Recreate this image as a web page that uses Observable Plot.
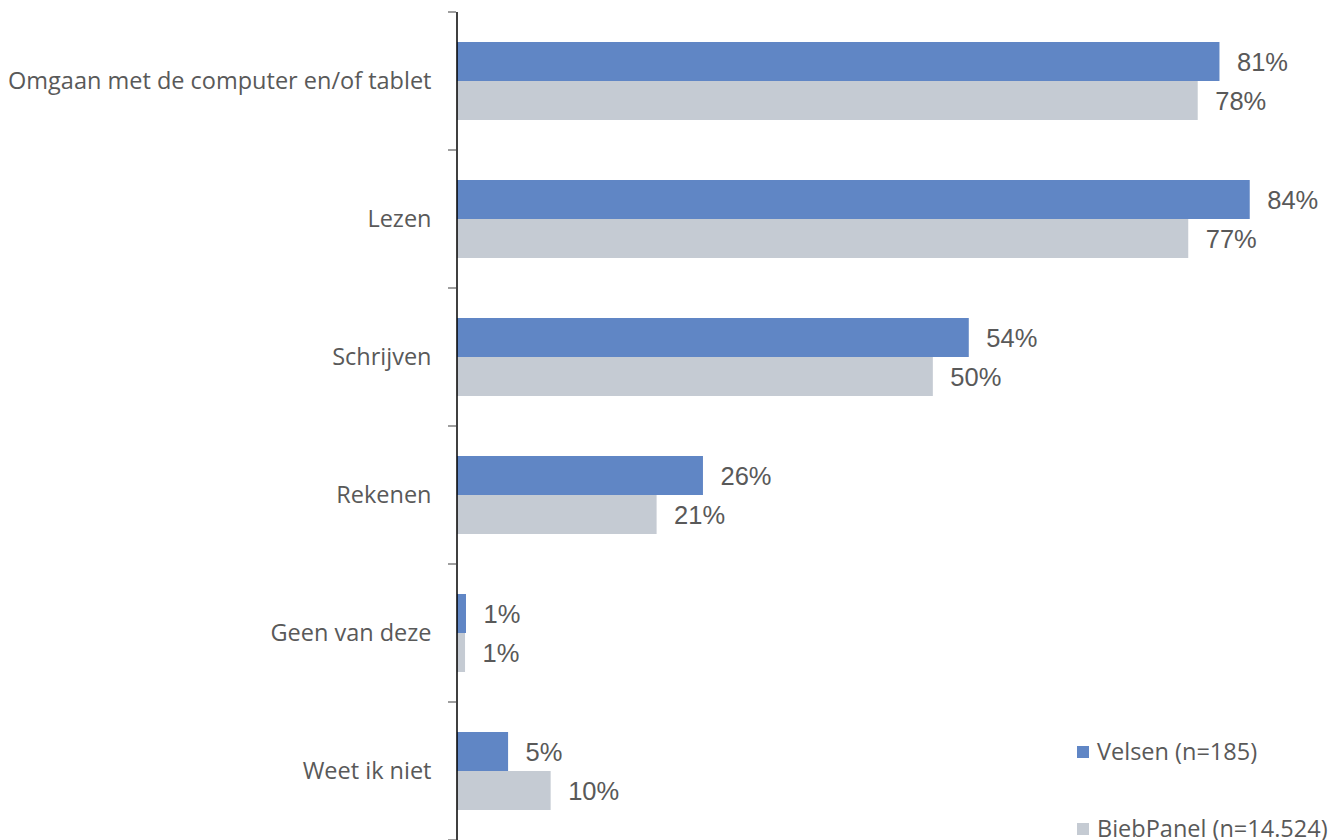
<!DOCTYPE html>
<html>
<head>
<meta charset="utf-8">
<script src="https://cdn.jsdelivr.net/npm/d3@7"></script>
<script src="https://cdn.jsdelivr.net/npm/@observablehq/plot@0.6"></script>
<style>
  html, body { margin: 0; padding: 0; background: white; }
  #wrap { position: relative; width: 1331px; height: 840px; overflow: hidden; }
  .legend { position: absolute; left: 1077px; font-family: "Open Sans", sans-serif; font-size: 23.5px; color: #595959; white-space: nowrap; display: flex; align-items: center; line-height: 1; }
  .legend .sw { display: inline-block; width: 12px; height: 12px; margin-right: 8px; }
</style>
</head>
<body>
<div id="wrap"></div>
<script>
const categories = [
  "Omgaan met de computer en/of tablet",
  "Lezen",
  "Schrijven",
  "Rekenen",
  "Geen van deze",
  "Weet ik niet"
];
const series = ["Velsen (n=185)", "BiebPanel (n=14.524)"];
// values (labels shown rounded)
const velsen = [80.6, 83.8, 54.1, 26.0, 0.95, 5.4];
const biebpanel = [78.3, 77.3, 50.3, 21.1, 0.85, 9.9];
const colors = ["#6086C5", "#C5CBD3"];

const rows = [];
categories.forEach((c, i) => {
  rows.push({category: c, series: series[0], value: velsen[i]});
  rows.push({category: c, series: series[1], value: biebpanel[i]});
});

const chart = Plot.plot({
  width: 1331,
  height: 840,
  marginLeft: 457,
  marginRight: 0,
  marginTop: 12,
  marginBottom: 0,
  style: {fontFamily: "'Open Sans', sans-serif", color: "#595959", background: "white", overflow: "visible"},
  x: {domain: [0, 92.39], axis: null},
  y: {domain: series, paddingInner: 0, paddingOuter: 0.747, axis: null},
  fy: {domain: categories, padding: 0, label: null, axis: null},
  color: {domain: series, range: colors},
  marks: [
    Plot.barX(rows, {fy: "category", y: "series", x: "value", fill: "series"}),
    Plot.text(rows, {
      fy: "category", y: "series", x: "value",
      text: d => Math.round(d.value) + "%",
      textAnchor: "start", dx: 17, dy: 1,
      fontSize: 25.5, fontFamily: "'Liberation Sans', Arial, sans-serif",
      fill: "#595959"
    }),
    Plot.ruleX([0], {stroke: "#000", strokeWidth: 1.5, dx: -0.5}),
    Plot.axisFy({anchor: "left", tickSize: 0, tickPadding: 26, fontSize: 23.5, label: null, fill: "#595959"})
  ]
});

document.getElementById("wrap").appendChild(chart);

// boundary tick marks between categories (left of the axis)
const fyDesc = chart.scale("fy");
const fyScale = d3.scaleBand().domain(fyDesc.domain).range(fyDesc.range).padding(0);
const x0 = chart.scale("x").range[0];
const bounds = categories.map(c => fyScale(c)).concat([fyScale(categories[categories.length - 1]) + fyScale.bandwidth()]);
const g = d3.select(chart).append("g").attr("stroke", "#7f7f7f").attr("stroke-width", 1.5);
bounds.forEach(b => {
  g.append("line").attr("x1", x0 - 9).attr("x2", x0 - 1).attr("y1", b).attr("y2", b);
});

// legend
const wrap = document.getElementById("wrap");
const legendTops = [740, 817];
series.forEach((s, i) => {
  const div = document.createElement("div");
  div.className = "legend";
  div.style.top = legendTops[i] + "px";
  div.innerHTML = `<span class="sw" style="background:${colors[i]}"></span><span>${s}</span>`;
  wrap.appendChild(div);
});
</script>
</body>
</html>
